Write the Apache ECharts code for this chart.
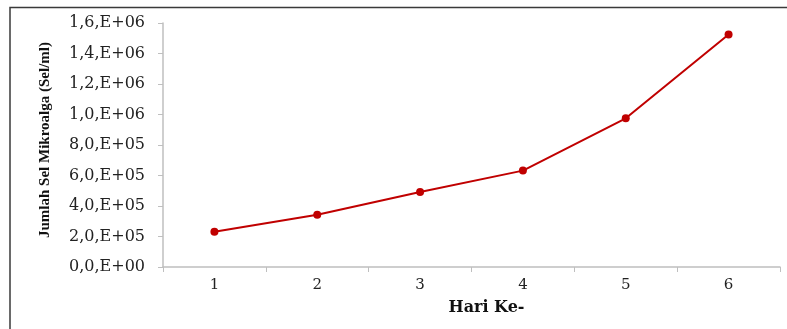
<!DOCTYPE html>
<html>
<head>
<meta charset="utf-8">
<script src="https://cdn.jsdelivr.net/npm/echarts@6/dist/echarts.min.js"></script>
<style>html,body{margin:0;padding:0;background:#fff}#c{width:787px;height:329px}</style>
</head>
<body>
<div id="c"></div>
<script>
var categories = ['1', '2', '3', '4', '5', '6'];
var cellCounts = [231000, 343000, 492000, 632000, 975000, 1525000];
var yTickLabels = ['0,0,E+00', '2,0,E+05', '4,0,E+05', '6,0,E+05', '8,0,E+05', '1,0,E+06', '1,2,E+06', '1,4,E+06', '1,6,E+06'];
var yStep = 200000;

var chart = echarts.init(document.getElementById('c'), null, {renderer: 'canvas'});
var serif = '"Liberation Serif", "Times New Roman", serif';
var wideSerif = '"DejaVu Serif", serif';
var axisGray = '#bfbfbf';
chart.setOption({
  animation: false,
  backgroundColor: '#fff',
  graphic: [{
    type: 'rect',
    shape: {x: 10, y: 7.5, width: 900, height: 400},
    style: {fill: 'none', stroke: '#3a3a3a', lineWidth: 1.5},
    silent: true
  }],
  grid: {left: 163, top: 23, right: 7, bottom: 62, containLabel: false},
  xAxis: {
    type: 'category',
    data: categories,
    boundaryGap: true,
    name: 'Hari Ke-',
    nameLocation: 'middle',
    nameGap: 33,
    nameTextStyle: {fontFamily: wideSerif, fontWeight: 'bold', fontSize: 16, color: '#111', padding: [0, 0, 0, 30]},
    axisLine: {lineStyle: {color: axisGray, width: 1.5}},
    axisTick: {show: true, alignWithLabel: false, length: 5, lineStyle: {color: axisGray}},
    axisLabel: {fontFamily: wideSerif, fontSize: 15, color: '#222', margin: 11},
    splitLine: {show: false}
  },
  yAxis: {
    type: 'value',
    min: 0,
    max: 1600000,
    interval: yStep,
    name: 'Jumlah Sel Mikroalga (Sel/ml)',
    nameLocation: 'middle',
    nameGap: 110,
    nameRotate: 90,
    nameTextStyle: {fontFamily: serif, fontWeight: 'bold', fontSize: 15, color: '#111', padding: [0, 0, 0, 10]},
    axisLine: {show: true, lineStyle: {color: axisGray, width: 1.5}},
    axisTick: {show: true, length: 5, lineStyle: {color: axisGray}},
    axisLabel: {
      fontFamily: wideSerif, fontSize: 16, color: '#222', margin: 18,
      formatter: function (v) { return yTickLabels[Math.round(v / yStep)]; }
    },
    splitLine: {show: false}
  },
  series: [{
    type: 'line',
    data: cellCounts,
    symbol: 'circle',
    symbolSize: 8,
    lineStyle: {color: '#c00000', width: 2},
    itemStyle: {color: '#c00000'}
  }]
});
</script>
</body>
</html>
